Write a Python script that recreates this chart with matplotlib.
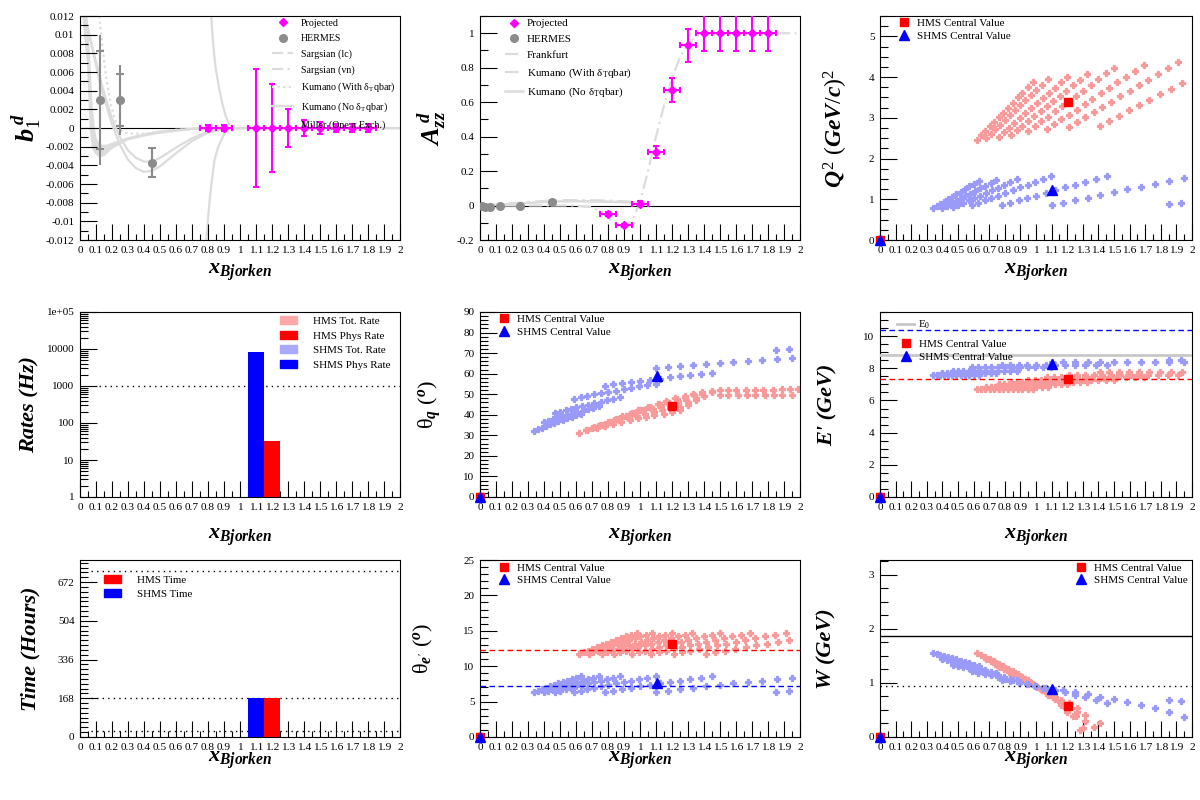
import numpy as np
import matplotlib.pyplot as plt
from matplotlib.lines import Line2D
from matplotlib.patches import Patch
from matplotlib.ticker import FixedLocator, FuncFormatter, MultipleLocator, LogLocator, NullFormatter

plt.rcParams.update({
    'font.family': 'Liberation Serif',
    'mathtext.fontset': 'custom',
    'mathtext.rm': 'Liberation Serif',
    'mathtext.it': 'Liberation Serif:italic:bold',
    'mathtext.bf': 'Liberation Serif:bold',
    'axes.linewidth': 0.8,
    'axes.unicode_minus': False,
})

# ---------------- b1 / Azz projections and HERMES ----------------
BIN_HALF = 0.05
proj_b1_x = [0.8, 0.9, 1.1, 1.2, 1.3, 1.4, 1.5, 1.6, 1.7, 1.8]
proj_b1_y = [0.0, 0.0, 0.0, 0.0, 0.0, 0.0, 0.0, 0.0, 0.0, 0.0]
proj_b1_err = [0.0003, 0.0003, 0.0063, 0.0047, 0.0020, 0.0009, 0.0006, 0.0004, 0.0004, 0.0004]

hermes_b1_x = [0.128, 0.248, 0.452]
hermes_b1_y = [0.0030, 0.0030, -0.0037]
hermes_b1_tot = [0.0070, 0.0037, 0.0016]
hermes_b1_stat = [0.0053, 0.0028, 0.0016]

proj_azz_x = [0.8, 0.9, 1.0, 1.1, 1.2, 1.3, 1.4, 1.5, 1.6, 1.7, 1.8]
proj_azz_y = [-0.05, -0.115, 0.01, 0.31, 0.67, 0.93, 1.0, 1.0, 1.0, 1.0, 1.0]
proj_azz_err = [0.01, 0.01, 0.015, 0.035, 0.07, 0.095, 0.105, 0.105, 0.105, 0.105, 0.105]

hermes_azz_x = [0.012, 0.032, 0.063, 0.128, 0.248, 0.452]
hermes_azz_y = [-0.005, -0.006, -0.010, 0.0, 0.0, 0.022]

# theory curves (b1)
sarg_lc_x = [0.03, 0.06, 0.09, 0.12, 0.15, 0.2, 0.25, 0.3, 0.35, 0.4, 0.45, 0.5, 0.6, 0.7, 0.8, 0.9, 1.0]
sarg_lc_y = [0.012, 0.0098, 0.0075, 0.0052, 0.0032, 0.0004, -0.0018, -0.0034, -0.0043, -0.0047,
             -0.0046, -0.0041, -0.0027, -0.0014, -0.0005, -0.0001, 0.0]
sarg_vn_x = [0.03, 0.06, 0.09, 0.12, 0.15, 0.2, 0.25, 0.3, 0.35, 0.4, 0.45, 0.5, 0.6, 0.7, 0.8, 0.9, 1.0]
sarg_vn_y = [0.012, 0.0099, 0.0078, 0.0057, 0.0038, 0.0010, -0.0010, -0.0024, -0.0032, -0.0036,
             -0.0036, -0.0032, -0.0021, -0.0011, -0.0004, -0.0001, 0.0]
kum_with_x = [0.12, 0.13, 0.14, 0.155, 0.17, 0.19, 0.22, 0.26, 0.3, 0.4, 0.5, 0.6, 0.8]
kum_with_y = [0.012, 0.0105, 0.0088, 0.0066, 0.0047, 0.0027, 0.0008, -0.0003, -0.0006, -0.0006,
              -0.0004, -0.0002, 0.0]
kum_no_x = [0.02, 0.035, 0.05, 0.067, 0.081, 0.1, 0.123, 0.15, 0.2, 0.3, 0.4, 0.5, 0.6, 0.7, 0.8, 0.9]
kum_no_y = [0.012, 0.0095, 0.0069, 0.0, -0.0021, -0.0027, -0.0030, -0.0029, -0.0021, -0.0012,
            -0.0008, -0.0005, -0.0003, -0.0001, 0.0, 0.0]
kum_no2_x = [0.04, 0.055, 0.07, 0.085, 0.1, 0.13, 0.17, 0.2, 0.3, 0.4, 0.5, 0.6, 0.7, 0.8, 0.9]
kum_no2_y = [0.012, 0.008, 0.003, 0.0, -0.0013, -0.0019, -0.0019, -0.0017, -0.0011, -0.0007,
             -0.0004, -0.0002, -0.0001, 0.0, 0.0]
miller_up_x = [0.82, 0.83, 0.84, 0.85, 0.87, 0.89, 0.91, 0.93, 0.95, 0.97, 1.0, 1.2, 1.5, 2.0]
miller_up_y = [0.012, 0.0095, 0.0076, 0.0062, 0.0042, 0.0026, 0.0013, 0.0005, 0.0001, 0.0, 0.0, 0.0, 0.0, 0.0]
miller_dn_x = [0.79, 0.80, 0.81, 0.82, 0.84, 0.86, 0.88, 0.90, 0.92, 0.94, 0.96]
miller_dn_y = [-0.012, -0.0098, -0.0078, -0.0062, -0.0035, -0.0022, -0.0014, -0.0007, -0.0003, -0.0001, 0.0]

# theory curves (Azz)
frank_x = [0.0, 0.2, 0.4, 0.6, 0.7, 0.75, 0.8, 0.85, 0.9, 0.95, 1.0, 1.05, 1.1, 1.15, 1.2, 1.25,
           1.3, 1.35, 1.4, 1.5, 1.7, 2.0]
frank_y = [0.0, 0.0, 0.0, 0.0, -0.01, -0.03, -0.07, -0.11, -0.13, -0.09, 0.02, 0.2, 0.4, 0.58,
           0.74, 0.86, 0.94, 0.98, 1.0, 1.0, 1.0, 1.0]
kum_azz_x = [0.0, 0.1, 0.2, 0.3, 0.4, 0.5, 0.6, 0.7, 0.8, 0.9, 1.0]
kum_azz_with_y = [0.0, 0.005, 0.012, 0.020, 0.026, 0.030, 0.031, 0.030, 0.028, 0.024, 0.020]
kum_azz_no_y = [0.0, 0.004, 0.009, 0.015, 0.020, 0.024, 0.025, 0.024, 0.022, 0.019, 0.016]

# ---------------- HMS kinematic points ----------------
hms_x = [
    [0.620, 0.647, 0.674, 0.702, 0.730, 0.760, 0.789, 0.820, 0.850, 0.882, 0.913, 0.946, 0.979],
    [0.680, 0.709, 0.739, 0.770, 0.801, 0.833, 0.866, 0.899, 0.932, 0.967, 1.002, 1.037, 1.074],
    [0.760, 0.793, 0.826, 0.860, 0.895, 0.931, 0.967, 1.005, 1.042, 1.081, 1.119, 1.159, 1.200],
    [0.840, 0.876, 0.913, 0.951, 0.990, 1.029, 1.069, 1.110, 1.152, 1.194, 1.237, 1.281, 1.326],
    [0.950, 0.991, 1.033, 1.075, 1.119, 1.164, 1.209, 1.256, 1.302, 1.351, 1.399, 1.449, 1.500],
    [1.070, 1.116, 1.163, 1.211, 1.260, 1.311, 1.362, 1.415, 1.467, 1.522, 1.576, 1.632, 1.690],
    [1.210, 1.262, 1.315, 1.370, 1.425, 1.482, 1.540, 1.600, 1.659, 1.721, 1.782, 1.845, 1.911],
    [1.410, 1.471, 1.533, 1.596, 1.661, 1.727, 1.795, 1.864, 1.933],
]
hms_q2 = [
    [2.46, 2.57, 2.67, 2.79, 2.90, 3.01, 3.13, 3.25, 3.37, 3.50, 3.62, 3.75, 3.88],
    [2.50, 2.61, 2.72, 2.83, 2.95, 3.06, 3.18, 3.31, 3.43, 3.56, 3.68, 3.81, 3.95],
    [2.54, 2.65, 2.76, 2.88, 2.99, 3.11, 3.23, 3.36, 3.48, 3.61, 3.74, 3.87, 4.01],
    [2.58, 2.69, 2.80, 2.92, 3.04, 3.16, 3.28, 3.41, 3.54, 3.67, 3.80, 3.93, 4.07],
    [2.68, 2.80, 2.91, 3.03, 3.16, 3.28, 3.41, 3.54, 3.67, 3.81, 3.95, 4.09, 4.23],
    [2.72, 2.84, 2.96, 3.08, 3.20, 3.33, 3.46, 3.60, 3.73, 3.87, 4.01, 4.15, 4.29],
    [2.77, 2.89, 3.01, 3.14, 3.26, 3.39, 3.53, 3.66, 3.80, 3.94, 4.08, 4.22, 4.37],
    [2.81, 2.93, 3.05, 3.18, 3.31, 3.44, 3.58, 3.71, 3.85],
]
hms_eprime = [6.69, 6.84, 7.02, 7.16, 7.30, 7.45, 7.58, 7.74]
hms_theta_e = [11.70, 11.95, 12.20, 12.45, 12.70, 12.95, 13.20, 13.45, 13.70, 13.95, 14.20, 14.45, 14.70]
hms_w = [
    [1.545, 1.510, 1.474, 1.436, 1.397, 1.354, 1.310, 1.263, 1.214, 1.161, 1.107, 1.046, 0.981],
    [1.434, 1.396, 1.356, 1.313, 1.270, 1.222, 1.172, 1.118, 1.063, 1.000, 0.934, 0.863, 0.780],
    [1.297, 1.254, 1.209, 1.161, 1.110, 1.054, 0.995, 0.929, 0.860, 0.780, 0.694, 0.591, 0.460],
    [1.171, 1.123, 1.071, 1.015, 0.954, 0.889, 0.817, 0.736, 0.643, 0.533, 0.390, 0.130],
    [1.010, 0.951, 0.887, 0.817, 0.738, 0.646, 0.539, 0.397, 0.167],
    [0.838, 0.765, 0.683, 0.586, 0.468, 0.298],
    [0.632, 0.529, 0.399, 0.182],
    [0.251],
]
hms_tq_x = [
    [0.62, 0.67, 0.73, 0.78, 0.83, 0.88, 0.94, 0.99, 1.04, 1.09, 1.15, 1.20, 1.25],
    [0.66, 0.71, 0.77, 0.82, 0.87, 0.93, 0.98, 1.03, 1.09, 1.14, 1.19, 1.25, 1.30],
    [0.70, 0.75, 0.81, 0.86, 0.92, 0.97, 1.02, 1.08, 1.13, 1.19, 1.24, 1.30, 1.35],
    [0.74, 0.80, 0.85, 0.91, 0.96, 1.02, 1.07, 1.13, 1.18, 1.24, 1.29, 1.35, 1.40],
    [0.78, 0.84, 0.89, 0.95, 1.00, 1.06, 1.12, 1.17, 1.23, 1.28, 1.34, 1.39, 1.45],
    [0.82, 0.88, 0.94, 0.99, 1.05, 1.11, 1.16, 1.22, 1.28, 1.33, 1.39, 1.45, 1.50],
    [1.55, 1.60, 1.66, 1.72, 1.77, 1.83, 1.89, 1.94, 1.99],
    [1.50, 1.55, 1.61, 1.67, 1.72, 1.78, 1.84, 1.89, 1.95],
]
hms_tq = [
    [31.2, 32.4, 33.5, 34.5, 35.5, 36.4, 37.3, 38.2, 39.0, 39.8, 40.6, 41.5, 42.3],
    [32.5, 33.9, 35.2, 36.4, 37.5, 38.5, 39.5, 40.5, 41.4, 42.3, 43.2, 44.0, 44.8],
    [33.5, 35.1, 36.6, 38.0, 39.3, 40.5, 41.6, 42.6, 43.6, 44.5, 45.4, 46.2, 47.0],
    [34.5, 36.3, 38.0, 39.6, 41.0, 42.3, 43.5, 44.6, 45.6, 46.5, 47.4, 48.2, 49.0],
    [35.5, 37.5, 39.3, 41.0, 42.5, 43.9, 45.2, 46.4, 47.5, 48.5, 49.4, 50.2, 51.0],
    [36.5, 38.6, 40.5, 42.3, 43.9, 45.4, 46.8, 48.0, 49.1, 50.1, 50.9, 51.5, 52.0],
    [52.0, 52.1, 52.1, 52.2, 52.2, 52.2, 52.3, 52.3, 52.3],
    [49.4, 49.4, 49.5, 49.5, 49.5, 49.5, 49.6, 49.6, 49.6],
]

# ---------------- SHMS kinematic points ----------------
shms_x = [
    [0.340, 0.363, 0.387, 0.411, 0.437, 0.463, 0.490, 0.517, 0.545, 0.573, 0.603, 0.633],
    [0.400, 0.427, 0.455, 0.484, 0.514, 0.544, 0.576, 0.608, 0.642, 0.674, 0.709, 0.745],
    [0.470, 0.502, 0.535, 0.569, 0.603, 0.640, 0.677, 0.715, 0.754, 0.792, 0.833, 0.876],
    [0.590, 0.630, 0.671, 0.714, 0.758, 0.803, 0.850, 0.897, 0.946, 0.995, 1.046, 1.099],
    [0.780, 0.833, 0.888, 0.944, 1.002, 1.062, 1.123, 1.186, 1.251, 1.315, 1.383, 1.453],
    [1.100, 1.175, 1.252, 1.331, 1.412, 1.497, 1.584, 1.673, 1.764, 1.855, 1.950],
    [1.850, 1.930],
]
shms_q2 = [
    [0.78, 0.83, 0.89, 0.94, 1.00, 1.06, 1.12, 1.19, 1.25, 1.32, 1.38, 1.45],
    [0.79, 0.84, 0.90, 0.96, 1.01, 1.08, 1.14, 1.20, 1.27, 1.33, 1.40, 1.47],
    [0.80, 0.85, 0.91, 0.97, 1.03, 1.09, 1.15, 1.22, 1.28, 1.35, 1.42, 1.49],
    [0.85, 0.91, 0.97, 1.03, 1.09, 1.16, 1.22, 1.29, 1.36, 1.43, 1.51, 1.58],
    [0.85, 0.91, 0.97, 1.03, 1.09, 1.16, 1.22, 1.29, 1.36, 1.43, 1.51, 1.58],
    [0.86, 0.92, 0.98, 1.04, 1.10, 1.17, 1.24, 1.31, 1.38, 1.45, 1.53],
    [0.89, 0.90],
]
shms_eprime = [7.58, 7.70, 7.85, 8.05, 8.20, 8.38, 8.54]
shms_theta_e = [6.30, 6.51, 6.72, 6.93, 7.14, 7.35, 7.56, 7.77, 7.98, 8.18, 8.39, 8.60]
shms_w = [
    [1.547, 1.530, 1.512, 1.494, 1.474, 1.453, 1.432, 1.410, 1.387, 1.364, 1.338, 1.312],
    [1.437, 1.418, 1.399, 1.378, 1.356, 1.335, 1.310, 1.286, 1.260, 1.234, 1.206, 1.176],
    [1.335, 1.315, 1.293, 1.270, 1.247, 1.222, 1.196, 1.168, 1.140, 1.111, 1.079, 1.045],
    [1.213, 1.189, 1.164, 1.137, 1.109, 1.079, 1.047, 1.014, 0.979, 0.942, 0.902, 0.858],
    [1.058, 1.031, 1.001, 0.970, 0.937, 0.901, 0.864, 0.823, 0.778, 0.733, 0.680, 0.621],
    [0.896, 0.862, 0.826, 0.788, 0.747, 0.701, 0.650, 0.595, 0.532, 0.459, 0.370],
    [0.686, 0.658],
]
shms_tq = [
    [32.3, 33.0, 33.8, 34.5, 35.3, 36.0, 36.8, 37.5, 38.3, 39.0, 39.8, 40.5],
    [36.4, 37.1, 37.8, 38.5, 39.2, 39.9, 40.6, 41.3, 42.0, 42.7, 43.4, 44.1],
    [40.8, 41.5, 42.2, 42.9, 43.6, 44.3, 45.0, 45.7, 46.4, 47.1, 47.8, 48.5],
    [47.9, 48.6, 49.2, 49.9, 50.5, 51.2, 51.8, 52.5, 53.1, 53.8, 54.4, 55.1],
    [54.2, 54.8, 55.3, 55.9, 56.5, 57.1, 57.6, 58.2, 58.8, 59.4, 59.9, 60.5],
    [62.9, 63.4, 63.8, 64.3, 64.7, 65.2, 65.6, 66.1, 66.5, 67.0, 67.4],
    [71.6, 72.0],
]

# central values (first entry is the dummy point at the origin)
hms_c_x = [0.0, 1.203]
shms_c_x = [0.0, 1.105]
hms_c_q2, shms_c_q2 = [0.0, 3.40], [0.0, 1.23]
hms_c_tq, shms_c_tq = [0.0, 44.4], [0.0, 58.9]
hms_c_ep, shms_c_ep = [0.0, 7.33], [0.0, 8.27]
hms_c_te, shms_c_te = [0.0, 13.2], [0.0, 7.64]
hms_c_w, shms_c_w = [0.0, 0.573], [0.0, 0.893]

# reference lines
ep_beam_line, ep_e0_line, ep_hms_line = 10.4, 8.85, 7.33
te_hms_line, te_shms_line = 12.26, 7.26
w_top_line, w_mass_line = 1.86, 0.94
rate_line = 1000
time_lines = [24, 168, 720]

# rates and beam time
BIN_WIDTH = 0.1
shms_rate_x, shms_phys_rate = [1.1], [8500]
hms_rate_x, hms_phys_rate = [1.2], [32]
shms_time_x, shms_time = [1.1], [168]
hms_time_x, hms_time = [1.2], [168]

# ---------------- style ----------------
HMS_PALE = '#f99a9a'
SHMS_PALE = '#9a9af9'
THEORY = '#dcdcdc'
HERMES_C = '#8c8c8c'
MAGENTA = '#ff00ff'
LBL = dict(fontsize=16, fontweight='bold', fontstyle='italic')

fig = plt.figure(figsize=(12, 8), dpi=100)
col_left = [80, 480, 880]
col_width = [320, 320, 312]
row_span = [(16, 240), (312, 497), (560, 737)]
xlabel_y = [-0.098, -0.162, -0.073]


def make_axes(row, col):
    top, bottom = row_span[row]
    return fig.add_axes([col_left[col] / 1200, 1 - bottom / 800,
                         col_width[col] / 1200, (bottom - top) / 800])


def fmt(v, pos):
    return f'{round(v, 6):g}'


def style(ax, row, ylim, ymajor, yminor):
    ax.set_xlim(0, 2)
    ax.set_ylim(*ylim)
    ax.xaxis.set_major_locator(FixedLocator(np.round(np.arange(0, 2.01, 0.1), 2)))
    ax.xaxis.set_minor_locator(FixedLocator(np.round(np.arange(0.05, 2.0, 0.1), 2)))
    ax.xaxis.set_major_formatter(FuncFormatter(fmt))
    if ymajor is not None:
        ax.yaxis.set_major_locator(MultipleLocator(ymajor))
        ax.yaxis.set_minor_locator(MultipleLocator(yminor))
        ax.yaxis.set_major_formatter(FuncFormatter(fmt))
    ax.tick_params(axis='both', which='both', direction='in', top=False, right=False, width=0.8)
    ax.tick_params(axis='x', which='major', length=11.5, labelsize=8.2, pad=4)
    ax.tick_params(axis='x', which='minor', length=4.3)
    ax.tick_params(axis='y', which='major', length=12, labelsize=8.0, pad=4)
    ax.tick_params(axis='y', which='minor', length=6)
    ax.set_xlabel(r'$x_{Bjorken}$', fontsize=16)
    ax.xaxis.set_label_coords(0.5, xlabel_y[row])


def set_ylab(ax, text, xpos, **kw):
    ax.set_ylabel(text, **kw)
    ax.yaxis.set_label_coords(xpos, 0.5)


def legend(ax, handles, labels, x, y, fs=8, hl=1.5, htp=0.4, ls=0.3, hh=0.7):
    return ax.legend(handles, labels, loc='upper left', bbox_to_anchor=(x, y), frameon=False,
                     borderpad=0, borderaxespad=0, fontsize=fs, handlelength=hl,
                     handletextpad=htp, labelspacing=ls, handleheight=hh, numpoints=1)


def scatter_rows(ax, xrows, yrows, color):
    # chunky filled crosses, like ROOT's small full-cross marker
    for xs, ys in zip(xrows, yrows):
        ax.plot(xs[:len(ys)], ys, 'P', color=color, ms=4.2, mew=0.9, mec=color,
                ls='none', zorder=2)


def central(ax, hy, sy):
    ax.plot(hms_c_x, hy, 's', color='red', ms=6, ls='none', zorder=5, clip_on=False)
    ax.plot(shms_c_x, sy, '^', color='blue', ms=6.5, ls='none', zorder=5, clip_on=False)


hms_h = Line2D([], [], marker='s', color='red', ms=6, ls='none')
shms_h = Line2D([], [], marker='^', color='blue', ms=6.5, ls='none')
central_labels = ['HMS Central Value', 'SHMS Central Value']

# ---------------- b1 ----------------
ax = make_axes(0, 0)
style(ax, 0, (-0.012, 0.012), 0.002, 0.001)
ax.axhline(0, color='black', lw=0.8, zorder=1)
ax.fill(np.concatenate([kum_no_x, kum_no2_x[::-1]]), np.concatenate([kum_no_y, kum_no2_y[::-1]]),
        color=THEORY, lw=0, zorder=1)
ax.plot(kum_no_x, kum_no_y, color=THEORY, lw=1.6, zorder=1)
ax.plot(kum_no2_x, kum_no2_y, color=THEORY, lw=1.6, zorder=1)
ax.plot(sarg_lc_x, sarg_lc_y, color=THEORY, lw=1.6, zorder=1)
ax.plot(sarg_vn_x, sarg_vn_y, color=THEORY, lw=1.6, zorder=1)
ax.plot(kum_with_x, kum_with_y, color=THEORY, lw=1.6, ls=(0, (1, 1.5)), zorder=1)
ax.plot(miller_up_x, miller_up_y, color=THEORY, lw=1.6, zorder=1)
ax.plot(miller_dn_x, miller_dn_y, color=THEORY, lw=1.6, zorder=1)
ax.errorbar(hermes_b1_x, hermes_b1_y, yerr=hermes_b1_tot, fmt='o', color=HERMES_C, ms=5.5,
            elinewidth=1.5, capsize=0, zorder=3)
ax.errorbar(hermes_b1_x, hermes_b1_y, yerr=hermes_b1_stat, fmt='none', ecolor=HERMES_C,
            elinewidth=1.5, capsize=3, capthick=1.5, zorder=3)
ax.errorbar(proj_b1_x, proj_b1_y, xerr=BIN_HALF, yerr=proj_b1_err, fmt='D', color=MAGENTA, ms=4.5,
            elinewidth=1.5, capsize=2.2, capthick=1.5, zorder=4)
set_ylab(ax, r'$b_{1}^{\,d}$', -0.116, fontsize=19)
legend(ax,
       [Line2D([], [], marker='D', color=MAGENTA, ms=4.5, ls='none'),
        Line2D([], [], marker='o', color=HERMES_C, ms=5.5, ls='none'),
        Line2D([], [], color=THEORY, lw=1.6, ls=(0, (5, 2))),
        Line2D([], [], color=THEORY, lw=1.6, ls=(0, (5, 2, 1, 2))),
        Line2D([], [], color=THEORY, lw=1.6, ls=(0, (1, 1.5))),
        Line2D([], [], color=THEORY, lw=1.6),
        Line2D([], [], color='none')],
       ['Projected', 'HERMES', 'Sargsian (lc)', 'Sargsian (vn)',
        r'Kumano (With δ$_{\mathrm{T}}$qbar)', r'Kumano (No δ$_{\mathrm{T}}$qbar)', 'Miller (One π Exch.)'],
       0.60, 0.987, fs=7.2, hl=2.1, htp=0.8, ls=0.62)

# ---------------- Azz ----------------
ax = make_axes(0, 1)
style(ax, 0, (-0.2, 1.1), 0.2, 0.1)
ax.axhline(0, color='black', lw=0.8, zorder=1)
ax.plot(kum_azz_x, kum_azz_no_y, color=THEORY, lw=1.8, zorder=1)
ax.plot(kum_azz_x, kum_azz_with_y, color=THEORY, lw=1.8, ls=(0, (6, 2, 1, 2)), zorder=1)
ax.plot(frank_x, frank_y, color=THEORY, lw=1.6, ls=(0, (6, 2, 1, 2)), zorder=1)
ax.plot(hermes_azz_x, hermes_azz_y, 'o', color=HERMES_C, ms=5.5, zorder=3)
ax.errorbar(proj_azz_x, proj_azz_y, xerr=BIN_HALF, yerr=proj_azz_err, fmt='D', color=MAGENTA, ms=4.5,
            elinewidth=1.5, capsize=2.2, capthick=1.5, zorder=4)
set_ylab(ax, r'$A_{zz}^{\,d}$', -0.10, fontsize=19)
legend(ax,
       [Line2D([], [], marker='D', color=MAGENTA, ms=4.5, ls='none'),
        Line2D([], [], marker='o', color=HERMES_C, ms=5.5, ls='none'),
        Line2D([], [], color=THEORY, lw=1.6, ls=(0, (6, 2, 1, 2))),
        Line2D([], [], color=THEORY, lw=1.6, ls=(0, (6, 2, 1, 2))),
        Line2D([], [], color=THEORY, lw=1.8)],
       ['Projected', 'HERMES', 'Frankfurt', r'Kumano (With δ$_{\mathrm{T}}$qbar)',
        r'Kumano (No δ$_{\mathrm{T}}$qbar)'],
       0.078, 0.988, fs=8, hl=1.6, htp=0.4, ls=0.55)

# ---------------- Q2 ----------------
ax = make_axes(0, 2)
style(ax, 0, (0, 5.5), 1, 0.25)
scatter_rows(ax, hms_x, hms_q2, HMS_PALE)
scatter_rows(ax, shms_x, shms_q2, SHMS_PALE)
central(ax, hms_c_q2, shms_c_q2)
set_ylab(ax, r'$Q^{\mathit{2}}\ (GeV/c)^{\mathit{2}}$', -0.096, fontsize=17)
legend(ax, [hms_h, shms_h], central_labels, 0.05, 0.991, ls=0.32)

# ---------------- Rates ----------------
ax = make_axes(1, 0)
style(ax, 1, (1, 1e5), None, None)
ax.set_yscale('log')
ax.set_ylim(1, 1e5)
ax.yaxis.set_major_locator(FixedLocator([1, 10, 100, 1000, 1e4, 1e5]))
ax.yaxis.set_major_formatter(FuncFormatter(lambda v, p: {1: '1', 10: '10', 100: '100', 1000: '1000',
                                                         10000: '10000', 100000: '1e+05'}.get(int(round(v)), '')))
ax.yaxis.set_minor_locator(LogLocator(base=10, subs=np.arange(2, 10)))
ax.yaxis.set_minor_formatter(NullFormatter())
ax.tick_params(axis='y', which='both', direction='in', right=False)
ax.axhline(rate_line, xmin=0.06, color='black', lw=1, ls=(0, (1, 3)), zorder=1)
ax.bar(shms_rate_x, shms_phys_rate, width=BIN_WIDTH, color='blue', zorder=2)
ax.bar(hms_rate_x, hms_phys_rate, width=BIN_WIDTH, color='red', zorder=2)
set_ylab(ax, 'Rates (Hz)', -0.125, **LBL)
legend(ax,
       [Patch(color='#ffa8a8'), Patch(color='red'), Patch(color='#a8a8ff'), Patch(color='blue')],
       ['HMS Tot. Rate', 'HMS Phys Rate', 'SHMS Tot. Rate', 'SHMS Phys Rate'],
       0.625, 0.978, fs=7.9, hl=1.55, htp=1.45, ls=0.45, hh=0.72)

# ---------------- theta_q ----------------
ax = make_axes(1, 1)
style(ax, 1, (0, 90), 10, 2)
scatter_rows(ax, hms_tq_x, hms_tq, HMS_PALE)
scatter_rows(ax, shms_x, shms_tq, SHMS_PALE)
central(ax, hms_c_tq, shms_c_tq)
set_ylab(ax, r'θ$_{q}$ ($^{o}$)', -0.116, fontsize=16)
legend(ax, [hms_h, shms_h], central_labels, 0.049, 0.987, ls=0.3)

# ---------------- E' ----------------
ax = make_axes(1, 2)
style(ax, 1, (0, 11.5), 2, 0.5)
scatter_rows(ax, hms_x, [[e] * len(xs) for xs, e in zip(hms_x, hms_eprime)], HMS_PALE)
scatter_rows(ax, shms_x, [[e] * len(xs) for xs, e in zip(shms_x, shms_eprime)], SHMS_PALE)
ax.axhline(ep_beam_line, color='blue', lw=1, ls=(0, (4, 2.5)), zorder=3)
ax.axhline(ep_e0_line, color='#c8c8c8', lw=2, zorder=3)
ax.axhline(ep_hms_line, color='red', lw=1, ls=(0, (4, 2.5)), zorder=3)
central(ax, hms_c_ep, shms_c_ep)
set_ylab(ax, "E' (GeV)", -0.135, **LBL)
leg = legend(ax, [Line2D([], [], color='#c8c8c8', lw=2)], [r'E$_{\mathrm{0}}$'], 0.054, 0.964)
ax.add_artist(leg)
legend(ax, [hms_h, shms_h], central_labels, 0.056, 0.855, ls=0.3)

# ---------------- Time ----------------
ax = make_axes(2, 0)
style(ax, 2, (0, 768), 168, 21)
for t in time_lines:
    ax.axhline(t, xmin=0.035, color='black', lw=1, ls=(0, (1, 3)), zorder=1)
ax.bar(shms_time_x, shms_time, width=BIN_WIDTH, color='blue', zorder=2)
ax.bar(hms_time_x, hms_time, width=BIN_WIDTH, color='red', zorder=2)
set_ylab(ax, 'Time (Hours)', -0.125, **LBL)
legend(ax, [Patch(color='red'), Patch(color='blue')], ['HMS Time', 'SHMS Time'],
       0.075, 0.913, fs=7.9, hl=1.55, htp=1.45, ls=0.35, hh=0.72)

# ---------------- theta_e ----------------
ax = make_axes(2, 1)
style(ax, 2, (0, 25), 5, 1)
scatter_rows(ax, hms_x, [hms_theta_e[:len(xs)] for xs in hms_x], HMS_PALE)
scatter_rows(ax, shms_x, [shms_theta_e[:len(xs)] for xs in shms_x], SHMS_PALE)
ax.axhline(te_hms_line, color='red', lw=1, ls=(0, (4, 2.5)), zorder=3)
ax.axhline(te_shms_line, color='blue', lw=1, ls=(0, (4, 2.5)), zorder=3)
central(ax, hms_c_te, shms_c_te)
set_ylab(ax, r"θ$_{e'}$ ($^{o}$)", -0.14, fontsize=16)
legend(ax, [hms_h, shms_h], central_labels, 0.049, 0.984, ls=0.2)

# ---------------- W ----------------
ax = make_axes(2, 2)
style(ax, 2, (0, 3.27), 1, 0.25)
scatter_rows(ax, hms_x, hms_w, HMS_PALE)
scatter_rows(ax, shms_x, shms_w, SHMS_PALE)
ax.axhline(w_top_line, color='black', lw=1, zorder=3)
ax.axhline(w_mass_line, color='black', lw=1, ls=(0, (1, 3)), zorder=3)
central(ax, hms_c_w, shms_c_w)
set_ylab(ax, 'W (GeV)', -0.138, **LBL)
legend(ax, [hms_h, shms_h], central_labels, 0.617, 0.984, ls=0.2)

fig.savefig('out.png', dpi=100)
